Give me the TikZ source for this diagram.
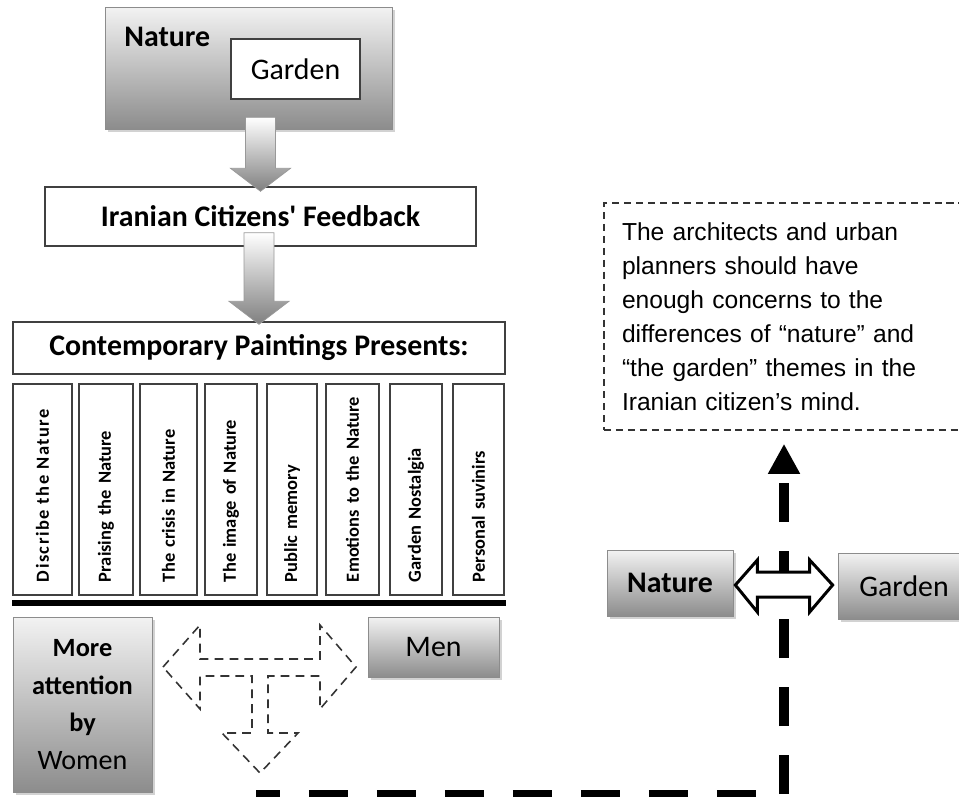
\documentclass[tikz,border=0pt]{standalone}
\usepackage{fontspec}
\setmainfont{Carlito}
\newfontfamily\notefont{Liberation Sans}
\usetikzlibrary{calc,shadows,arrows.meta}

\tikzset{
  shadebox/.style={rectangle, draw=black!45, top color=black!5, bottom color=black!45,
    drop shadow={shadow xshift=1.5pt, shadow yshift=-1.5pt, opacity=0.35}},
  plainbox/.style={rectangle, draw=black!75, line width=0.8pt, fill=white},
  paint/.style={plainbox, rotate=90, minimum width=4.22cm, inner xsep=0.26cm,
    text width=3.7cm, align=left, font=\fontsize{10.5}{12}\selectfont\bfseries},
  blockarr/.style={draw=black!40, top color=white, bottom color=black!50},
  tarr/.style={draw=black!80, line width=0.9pt, dash pattern=on 5pt off 3.5pt},
  notebox/.style={rectangle, draw=black!80, line width=0.9pt, dash pattern=on 4pt off 2.8pt},
  bigdash/.style={line width=0.2cm, dash pattern=on 0.78cm off 0.58cm, dash phase=0.3cm,
    -{Triangle[length=0.6cm,width=0.6cm]}, shorten >=0.26cm},
  dblarr/.style={draw=black, line width=1.7pt, fill=white, line join=miter}
}

\begin{document}
\begin{tikzpicture}[x=0.02cm, y=-0.02cm, font=\fontsize{17}{20}\selectfont]
  \clip (0,0) rectangle (959,796);
  \fill[white] (0,0) rectangle (959,796);

  % left column
  \node[shadebox, minimum width=5.74cm, minimum height=2.44cm] (nat) at (248.5,68) {};
  \node[anchor=west, inner sep=0pt, font=\fontsize{17}{20}\selectfont\bfseries] (natlbl) at (124,37) {Nature};
  \node[plainbox, minimum width=2.58cm, minimum height=1.2cm] (garin) at (295.5,69) {Garden};
  \node[plainbox, minimum width=8.62cm, minimum height=1.18cm, font=\fontsize{17}{20}\selectfont\bfseries]
    (feed) at (260.5,216.5) {Iranian Citizens\textquotesingle\ Feedback};
  \node[plainbox, minimum width=9.84cm, minimum height=1.04cm, font=\fontsize{17}{20}\selectfont\bfseries]
    (cont) at (259,348) {Contemporary Paintings Presents:};

  \foreach \x/\w/\t [count=\i] in {42.5/1.18/{\addfontfeature{LetterSpace=8}Discribe the Nature},
      106/1.08/Praising the Nature, 168.5/1.14/The crisis in Nature, 231/1.04/The image of Nature,
      292/1.0/Public memory, 352.5/1.06/Emotions to the Nature, 416/1.04/Garden Nostalgia,
      478.5/1.02/Personal suvinirs}
    \node[paint, minimum height=\w cm] (p\i) at (\x,489.5) {\mbox{\t}};

  \draw[line width=0.12cm] (cont.west |- 0,603) -- (cont.east |- 0,603);

  \node[shadebox, minimum width=2.78cm, minimum height=3.5cm, align=center,
    font=\fontsize{15}{21.5}\selectfont] (women) at (82.5,704.5)
    {\textbf{More}\\ \textbf{attention}\\ \textbf{by}\\ {\fontsize{16}{21.5}\selectfont Women}};
  \node[shadebox, minimum width=2.62cm, minimum height=1.2cm] (men) at (433.5,647) {Men};

  % gray arrows
  \path[blockarr] ($(nat.south -| feed.north)+(-15,-12)$) -- ++(30,0) -- ($(feed.north)+(15,-18)$)
    -- ++(15,0) -- ($(feed.north)+(0,5)$) -- ($(feed.north)+(-30,-18)$) -- ++(15,0) -- cycle;
  \path[blockarr] ($(feed.south -| cont.north)+(-15,-14)$) -- ++(30,0) -- ($(cont.north)+(15,-20)$)
    -- ++(15,0) -- ($(cont.north)+(0,3)$) -- ($(cont.north)+(-30,-20)$) -- ++(15,0) -- cycle;

  % three way arrow
  \draw[tarr] (163,667) -- (200,625) -- (200,659) -- (320,659) -- (320,625) -- (356,667)
    -- (320,709) -- (320,676) -- (268,676) -- (268,733) -- (298,733) -- (260,773)
    -- (222,733) -- (252,733) -- (252,676) -- (200,676) -- (200,709) -- cycle;

  % right column
  \node[notebox, minimum width=7.2cm, minimum height=4.54cm, inner xsep=0.36cm, text width=6.48cm,
    align=left, font={\notefont\fontsize{14}{19.3}\selectfont}] (note) at (784,316.5)
    {The architects and urban\\ planners should have\\ enough concerns to the\\
     differences of “nature” and\\ “the garden” themes in the\\ Iranian citizen’s mind.};
  \node[shadebox, minimum width=2.52cm, minimum height=1.32cm, font=\fontsize{17}{20}\selectfont\bfseries]
    (natr) at (670,583) {Nature};
  \node[shadebox, minimum width=2.64cm, minimum height=1.32cm] (gardr) at (904,586) {Garden};

  \coordinate (dstart) at (256,795);
  \draw[bigdash] (dstart) -| (note.south);

  \draw[dblarr] ($(natr.east)+(2,2)$) -- ++(22,-25) -- ++(0,12) -- ($(gardr.west)+(-28,-14)$)
    -- ++(0,-12) -- ++(23,25) -- ++(-23,27) -- ++(0,-15) -- ($(natr.east)+(24,14)$) -- ++(0,15) -- cycle;
\end{tikzpicture}
\end{document}
